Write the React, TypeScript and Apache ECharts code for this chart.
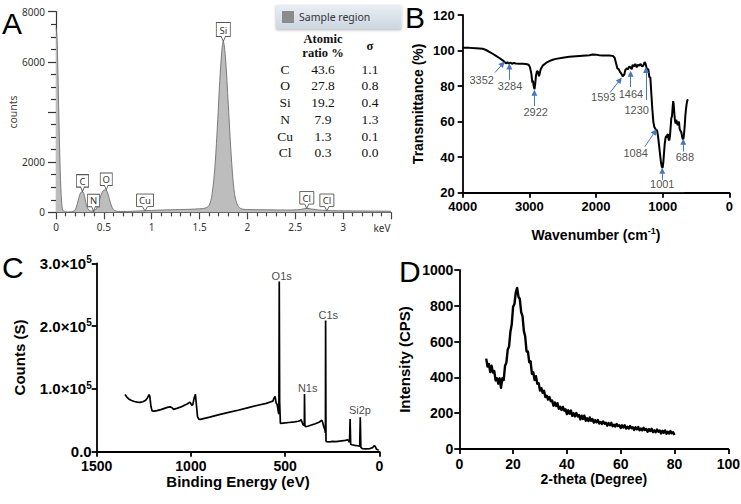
import React, { useEffect, useRef } from 'react';
import * as echarts from 'echarts';

const SANS = '"Liberation Sans", Arial, Helvetica, sans-serif';
const UI = '"Noto Sans", "Open Sans", sans-serif';
const SERIF = '"Liberation Serif", "Times New Roman", serif';

// ---------- Panel A: EDS spectrum ----------
const edsKeV = [0, 0.01, 0.02, 0.03, 0.04, 0.05, 0.06, 0.07, 0.09, 0.12, 0.16, 0.19, 0.21, 0.23, 0.25, 0.265, 0.277, 0.29, 0.305, 0.32, 0.34, 0.36, 0.38, 0.392, 0.41, 0.43, 0.45, 0.47, 0.49, 0.51, 0.525, 0.54, 0.56, 0.58, 0.6, 0.63, 0.67, 0.75, 0.85, 0.93, 1.0, 1.1, 1.2, 1.3, 1.4, 1.5, 1.56, 1.6, 1.63, 1.66, 1.69, 1.72, 1.748, 1.77, 1.8, 1.83, 1.86, 1.89, 1.93, 2.0, 2.2, 2.4, 2.52, 2.58, 2.62, 2.67, 2.74, 2.83, 2.95, 3.1, 3.3, 3.5];
const edsCounts = [7370, 7000, 5600, 3800, 2200, 1000, 350, 90, 20, 15, 20, 60, 180, 450, 720, 810, 825, 760, 520, 260, 100, 55, 50, 55, 90, 200, 420, 680, 850, 890, 880, 770, 500, 250, 110, 45, 30, 35, 50, 65, 75, 90, 100, 110, 120, 140, 170, 280, 700, 1800, 3700, 5800, 6810, 6200, 4300, 2300, 900, 350, 150, 110, 100, 90, 100, 130, 160, 130, 95, 70, 60, 55, 50, 45];
const edsPeakLabels = ['C', 'N', 'O', 'Cu', 'Si', 'Cl', 'Cl'];
const edsPeakKeV = [0.277, 0.392, 0.525, 0.93, 1.748, 2.62, 2.83];
const edsPeakCounts = [825, 40, 890, 50, 6810, 150, 50];
const edsAxisTicks = ['0', '0.5', '1', '1.5', '2', '2.5', '3'];
const tableElements = ['C', 'O', 'Si', 'N', 'Cu', 'Cl'];
const tableRatio = [43.6, 27.8, 19.2, 7.9, 1.3, 0.3];
const tableSigma = [1.1, 0.8, 0.4, 1.3, 0.1, 0.0];

// ---------- Panel B: FTIR ----------
const ftirWavenumber = [4000, 3900, 3800, 3700, 3650, 3600, 3550, 3500, 3450, 3400, 3370, 3352, 3330, 3310, 3284, 3260, 3240, 3200, 3150, 3100, 3050, 3010, 2990, 2970, 2955, 2945, 2935, 2922, 2910, 2900, 2885, 2870, 2855, 2845, 2830, 2800, 2750, 2700, 2650, 2600, 2500, 2400, 2300, 2200, 2100, 2050, 2000, 1950, 1900, 1800, 1750, 1720, 1700, 1680, 1660, 1640, 1620, 1600, 1593, 1575, 1560, 1540, 1520, 1500, 1480, 1464, 1450, 1430, 1410, 1390, 1370, 1350, 1330, 1310, 1290, 1270, 1255, 1240, 1230, 1215, 1200, 1185, 1170, 1155, 1140, 1125, 1110, 1100, 1084, 1070, 1055, 1040, 1025, 1012, 1001, 990, 980, 970, 960, 950, 940, 930, 920, 910, 900, 890, 880, 870, 860, 850, 842, 835, 825, 815, 805, 795, 785, 775, 765, 755, 745, 735, 720, 705, 695, 688, 680, 670, 660, 650, 640, 630, 618];
const ftirTransmittance = [101.5, 101.5, 101.3, 101.0, 100.3, 99.3, 98.2, 97.0, 95.8, 94.5, 93.5, 92.8, 93.4, 92.6, 93.3, 92.5, 93.0, 92.7, 92.6, 92.5, 92.4, 92.0, 90.5, 87, 82, 83, 80, 78.3, 82, 86, 88.5, 88, 85.5, 87, 89.5, 91.5, 93, 94, 94.8, 95.3, 96, 96.5, 96.8, 97.1, 97.4, 97.8, 97.7, 97.3, 97.2, 97.2, 97.0, 96, 93, 90, 89.5, 88, 87, 85.5, 85.3, 86.5, 89, 90, 89.5, 91, 90.5, 89.5, 92, 91, 92.5, 90.5, 92, 91.5, 92.5, 91, 91.5, 93.5, 92.5, 90, 89.5, 89.5, 85, 85, 76, 67, 60, 57, 56, 55.5, 55, 52, 47, 42, 37, 34.5, 34, 37, 42, 47, 50, 52, 51, 52.5, 53, 50, 49.5, 52, 57, 62, 63, 68, 71.5, 70, 65, 60.5, 59, 61, 61, 58, 59, 60, 56, 55, 54, 51, 50, 50.5, 53, 57, 63, 67, 70, 72, 72.5];
const ftirPeakLabels = ['3352', '3284', '2922', '1593', '1464', '1230', '1084', '1001', '688'];
const ftirLabelWn = [3715, 3290, 2905, 1891, 1476, 1390, 1405, 1006, 666];
const ftirLabelT = [83.5, 80.1, 65.6, 73.7, 75.6, 66.6, 42.2, 24.7, 39.9];
const ftirArrowFromWn = [3516, 3300, 2925, 1790, 1480, 1250, 1266, 1006, 691];
const ftirArrowFromT = [87.6, 83.5, 68.8, 76.3, 79.4, 72.2, 45.9, 27.2, 43.1];
const ftirArrowToWn = [3400, 3300, 2925, 1640, 1480, 1250, 1116, 1006, 691];
const ftirArrowToT = [92.5, 91, 76.3, 83.5, 86.9, 89.1, 54.4, 32.4, 48.7];

// ---------- Panel C: XPS survey ----------
const xpsBindingEnergy = [1350, 1340, 1330, 1315, 1300, 1285, 1270, 1255, 1240, 1230, 1222, 1218, 1212, 1206, 1195, 1180, 1160, 1140, 1125, 1110, 1100, 1092, 1080, 1060, 1040, 1020, 1005, 995, 990, 982, 976, 971, 965, 958, 950, 900, 850, 800, 750, 700, 650, 600, 575, 565, 558, 553, 548, 542, 535, 533, 531, 529, 525, 510, 480, 450, 430, 420, 415, 410, 404, 400, 398, 397, 395, 390, 380, 360, 340, 320, 305, 300, 295, 289, 286, 285, 283, 280, 265, 250, 230, 210, 190, 175, 168, 163, 158, 155, 152, 145, 130, 115, 104, 101, 98, 90, 70, 50, 35, 28, 22, 15, 8, 3];
const xpsCounts = [91000, 87000, 84000, 81500, 80000, 79000, 78500, 79500, 82000, 86000, 91000, 88000, 72000, 65000, 64500, 65500, 67000, 69000, 70500, 71500, 70000, 67500, 68500, 70500, 73000, 76000, 79000, 74000, 75000, 86000, 91500, 75000, 56000, 52000, 51500, 55000, 59000, 62500, 66000, 69800, 73500, 77000, 79500, 80500, 86000, 88000, 78000, 75000, 62000, 60000, 271000, 80000, 45000, 45500, 46500, 47500, 48500, 49500, 51000, 47000, 42500, 42000, 45000, 92000, 41000, 40000, 40500, 42500, 44500, 47000, 50000, 46000, 40000, 35000, 30000, 209000, 17000, 16000, 15500, 16500, 16000, 16800, 17500, 18500, 19000, 17500, 15000, 52000, 12000, 11000, 10000, 9500, 9000, 55000, 7000, 5000, 4500, 5000, 6500, 9500, 8500, 4000, 3000, 2500];
const xpsPeakLabels = ['O1s', 'C1s', 'N1s', 'Si2p'];
const xpsLabelBE = [518, 271, 380, 103];
const xpsLabelCounts = [280000, 218000, 101000, 66000];

// ---------- Panel D: XRD ----------
const xrdTwoTheta = [10, 10.5, 11, 11.5, 12, 12.5, 13, 13.5, 14, 14.5, 15, 15.5, 16, 16.5, 17, 17.5, 18, 18.5, 19, 19.5, 20, 20.5, 21, 21.5, 22, 22.5, 23, 23.5, 24, 24.5, 25, 25.5, 26, 26.5, 27, 27.5, 28, 28.5, 29, 29.5, 30, 30.5, 31, 31.5, 32, 32.5, 33, 33.5, 34, 34.5, 35, 35.5, 36, 36.5, 37, 37.5, 38, 38.5, 39, 39.5, 40, 40.5, 41, 41.5, 42, 42.5, 43, 43.5, 44, 44.5, 45, 45.5, 46, 46.5, 47, 47.5, 48, 48.5, 49, 49.5, 50, 50.5, 51, 51.5, 52, 52.5, 53, 53.5, 54, 54.5, 55, 55.5, 56, 56.5, 57, 57.5, 58, 58.5, 59, 59.5, 60, 60.5, 61, 61.5, 62, 62.5, 63, 63.5, 64, 64.5, 65, 65.5, 66, 66.5, 67, 67.5, 68, 68.5, 69, 69.5, 70, 70.5, 71, 71.5, 72, 72.5, 73, 73.5, 74, 74.5, 75, 75.5, 76, 76.5, 77, 77.5, 78, 78.5, 79, 79.5, 80];
const xrdIntensity = [505, 460, 475, 430, 465, 427, 435, 383, 395, 365, 395, 342, 395, 385, 465, 482, 555, 573, 655, 697, 795, 810, 875, 900, 850, 838, 765, 742, 660, 628, 545, 545, 485, 490, 420, 428, 385, 407, 365, 368, 327, 340, 314, 326, 290, 298, 276, 290, 267, 271, 242, 260, 240, 256, 224, 236, 218, 235, 215, 222, 195, 216, 197, 215, 185, 199, 182, 201, 182, 190, 165, 186, 168, 187, 158, 172, 156, 176, 158, 167, 147, 161, 149, 162, 142, 151, 140, 154, 141, 147, 130, 145, 133, 146, 127, 136, 126, 140, 128, 133, 117, 132, 120, 133, 114, 124, 114, 128, 116, 122, 106, 121, 110, 123, 104, 114, 104, 118, 106, 112, 96, 111, 100, 113, 94, 104, 94, 109, 97, 103, 87, 102, 91, 104, 85, 96, 86, 100, 88, 94, 78];

const CALLOUT = 'path://M0,0H20V14H13L10,19L7,14H0Z';
const calloutSizes = [[12, 17], [12, 17], [12, 17], [17, 17], [14, 19], [14, 17], [14, 17]];

const plain = (v: number) => String(v);
function boldAxisLabel(size: number) {
  return { color: '#000', fontSize: size, fontWeight: 'bold' as const, fontFamily: SANS, formatter: plain };
}
const blackLine = { show: true, onZero: false, lineStyle: { color: '#000', width: 1.8 } };
const blackTick = { show: true, length: 5, lineStyle: { color: '#000', width: 1.8 } };

function buildOption(): any {
  const tableChildren: any[] = [];
  const colEl = 285, colRatio = 323, colSigma = 370;
  const hdr = { fontFamily: SERIF, fontWeight: 'bold', fontSize: 12.5, fill: '#111', align: 'center', verticalAlign: 'middle' };
  tableChildren.push({ type: 'text', x: colRatio, y: 39, style: { ...hdr, text: 'Atomic' } });
  tableChildren.push({ type: 'text', x: colRatio, y: 53, style: { ...hdr, text: 'ratio %' } });
  tableChildren.push({ type: 'text', x: colSigma, y: 46, style: { ...hdr, text: 'σ' } });
  const cell = { fontFamily: SERIF, fontSize: 13.5, fill: '#111', align: 'center', verticalAlign: 'middle' };
  tableElements.forEach((el, i) => {
    const y = 69 + i * 16.75;
    tableChildren.push({ type: 'text', x: colEl, y, style: { ...cell, text: el } });
    tableChildren.push({ type: 'text', x: colRatio, y, style: { ...cell, text: tableRatio[i].toFixed(1) } });
    tableChildren.push({ type: 'text', x: colSigma, y, style: { ...cell, text: tableSigma[i].toFixed(1) } });
  });

  const letter = (t: string, x: number, y: number) => ({
    type: 'text', x, y, style: { text: t, fontSize: 30, fontFamily: SANS, fill: '#000', align: 'left', verticalAlign: 'top' },
  });

  return {
    animation: false,
    backgroundColor: '#fff',
    grid: [
      { left: 56, top: 11.7, width: 335, height: 200.6, outerBoundsMode: 'none' },
      { left: 462.7, top: 15, width: 266.6, height: 177.7, outerBoundsMode: 'none' },
      { left: 96.7, top: 263.3, width: 282.6, height: 188.4, outerBoundsMode: 'none' },
      { left: 459.3, top: 270, width: 269, height: 179, outerBoundsMode: 'none' },
    ],
    legend: {
      show: true,
      data: [{ name: 'Sample region', icon: 'rect', itemStyle: { color: '#8b8b8b', borderWidth: 0 } }],
      left: 276, top: 5,
      itemWidth: 12, itemHeight: 12, itemGap: 0,
      padding: [6, 31, 6, 6],
      selectedMode: false,
      backgroundColor: new echarts.graphic.LinearGradient(0, 0, 0, 1, [
        { offset: 0, color: '#e9eef4' }, { offset: 1, color: '#ccd6e0' },
      ]),
      shadowBlur: 3, shadowColor: 'rgba(0,0,0,0.3)', shadowOffsetY: 1,
      textStyle: { fontSize: 10.5, color: '#333', fontFamily: UI },
    },
    xAxis: [
      {
        gridIndex: 0, type: 'value', min: 0, max: 3.5, interval: 0.5,
        axisLine: { show: true, onZero: false, lineStyle: { color: '#555', width: 1.2 } },
        axisTick: { show: true, length: 7, lineStyle: { color: '#444', width: 1.2 } },
        minorTick: { show: true, splitNumber: 5, length: 4, lineStyle: { color: '#444', width: 1.2 } },
        splitLine: { show: false },
        axisLabel: {
          margin: 10, fontSize: 10, color: '#333', fontFamily: UI,
          formatter: (v: number) => {
            const idx = Math.round(v / 0.5);
            return idx < edsAxisTicks.length ? edsAxisTicks[idx] : '';
          },
        },
      },
      {
        gridIndex: 1, type: 'value', inverse: true, min: 0, max: 4000, interval: 1000,
        axisLine: blackLine, axisTick: blackTick, splitLine: { show: false },
        axisLabel: { ...boldAxisLabel(13), margin: 7 },
        name: '{a|Wavenumber (cm}{b|-1}{a|)}', nameLocation: 'middle', nameGap: 34,
        nameTextStyle: {
          rich: {
            a: { fontSize: 14, fontWeight: 'bold', fontFamily: SANS, color: '#000', lineHeight: 16 },
            b: { fontSize: 9, fontWeight: 'bold', fontFamily: SANS, color: '#000', verticalAlign: 'top', lineHeight: 10 },
          },
        },
      },
      {
        gridIndex: 2, type: 'value', inverse: true, min: 0, max: 1500, interval: 500,
        axisLine: blackLine, axisTick: blackTick, splitLine: { show: false },
        axisLabel: { ...boldAxisLabel(14), margin: 7 },
        name: 'Binding Energy (eV)', nameLocation: 'middle', nameGap: 19,
        nameTextStyle: { fontSize: 15, fontWeight: 'bold', fontFamily: SANS, color: '#000', verticalAlign: 'top' },
      },
      {
        gridIndex: 3, type: 'value', min: 0, max: 100, interval: 20,
        axisLine: blackLine, axisTick: blackTick, splitLine: { show: false },
        axisLabel: { ...boldAxisLabel(14), margin: 8 },
        name: '2-theta (Degree)', nameLocation: 'middle', nameGap: 21,
        nameTextStyle: { fontSize: 14, fontWeight: 'bold', fontFamily: SANS, color: '#000', verticalAlign: 'top' },
      },
    ],
    yAxis: [
      {
        gridIndex: 0, type: 'value', min: 0, max: 8000, interval: 2000,
        axisLine: { show: true, onZero: false, lineStyle: { color: '#333', width: 1.2 } },
        axisTick: { show: true, length: 8, lineStyle: { color: '#333', width: 1.2 } },
        minorTick: { show: true, splitNumber: 4, length: 5, lineStyle: { color: '#333', width: 1.2 } },
        splitLine: { show: false },
        axisLabel: { margin: 11, fontSize: 10, color: '#333', fontFamily: UI, formatter: (v: number) => (v === 4000 ? '' : String(v)) },
        name: 'counts', nameLocation: 'middle', nameGap: 28,
        nameTextStyle: { fontSize: 10.5, color: '#444', fontFamily: UI },
      },
      {
        gridIndex: 1, type: 'value', min: 20, max: 120, interval: 20,
        axisLine: blackLine, axisTick: blackTick, splitLine: { show: false },
        axisLabel: { ...boldAxisLabel(13), margin: 8 },
        name: 'Transmittance (%)', nameLocation: 'middle', nameGap: 38,
        nameTextStyle: { fontSize: 14, fontWeight: 'bold', fontFamily: SANS, color: '#000' },
      },
      {
        gridIndex: 2, type: 'value', min: 0, max: 300000, interval: 100000,
        axisLine: blackLine, axisTick: blackTick, splitLine: { show: false },
        axisLabel: {
          margin: 5, color: '#000', fontSize: 15, fontWeight: 'bold', fontFamily: SANS,
          formatter: (v: number) => (v === 0 ? '0.0' : `{m|${(v / 100000).toFixed(1)}×10}{s|5}`),
          rich: {
            m: { fontSize: 15, fontWeight: 'bold', fontFamily: SANS, color: '#000', lineHeight: 17 },
            s: { fontSize: 10, fontWeight: 'bold', fontFamily: SANS, color: '#000', verticalAlign: 'top', lineHeight: 10 },
          },
        },
        name: 'Counts (S)', nameLocation: 'middle', nameGap: 70,
        nameTextStyle: { fontSize: 15, fontWeight: 'bold', fontFamily: SANS, color: '#000' },
      },
      {
        gridIndex: 3, type: 'value', min: 0, max: 1000, interval: 200,
        axisLine: blackLine, axisTick: blackTick, splitLine: { show: false },
        axisLabel: { ...boldAxisLabel(14), margin: 6 },
        name: 'Intensity (CPS)', nameLocation: 'middle', nameGap: 47,
        nameTextStyle: { fontSize: 15, fontWeight: 'bold', fontFamily: SANS, color: '#000' },
      },
    ],
    series: [
      {
        type: 'line', name: 'Sample region', xAxisIndex: 0, yAxisIndex: 0,
        data: edsKeV.map((k, i) => [k, edsCounts[i]]),
        smooth: 0.35, symbol: 'none',
        lineStyle: { color: '#6f6f6f', width: 0.9 },
        areaStyle: { color: '#bdbdbd', opacity: 1 },
        itemStyle: { color: '#8b8b8b' },
        markPoint: {
          symbol: CALLOUT, symbolOffset: [0, '-50%'],
          itemStyle: { color: '#fff', borderColor: '#555', borderWidth: 0.9 },
          label: { show: true, position: 'inside', offset: [0, -2], color: '#333', fontSize: 9.5, fontFamily: UI },
          data: edsPeakLabels.map((t, i) => ({
            name: t + i, coord: [edsPeakKeV[i], edsPeakCounts[i]], symbolSize: calloutSizes[i],
            label: { formatter: t },
          })),
        },
      },
      {
        type: 'line', xAxisIndex: 1, yAxisIndex: 1,
        data: ftirWavenumber.map((w, i) => [w, ftirTransmittance[i]]),
        symbol: 'none', lineStyle: { color: '#000', width: 2 },
        markLine: {
          silent: true, symbol: ['none', 'triangle'], symbolSize: 6,
          lineStyle: { color: '#4a74c4', width: 1, type: 'solid' },
          itemStyle: { color: '#4a74c4' },
          label: { show: false },
          data: ftirPeakLabels.map((_, i) => [
            { coord: [ftirArrowFromWn[i], ftirArrowFromT[i]] },
            { coord: [ftirArrowToWn[i], ftirArrowToT[i]] },
          ]),
        },
      },
      {
        type: 'scatter', xAxisIndex: 1, yAxisIndex: 1, symbolSize: 0, silent: true,
        data: ftirPeakLabels.map((t, i) => ({
          value: [ftirLabelWn[i], ftirLabelT[i]],
          label: t === '1001' ? { backgroundColor: 'rgba(255,255,255,0.65)', padding: [1, 10, 4, 10] } : {},
        })),
        label: {
          show: true, position: 'inside', color: '#222', fontSize: 11, fontFamily: SANS,
          formatter: (p: any) => ftirPeakLabels[p.dataIndex],
        },
      },
      {
        type: 'line', xAxisIndex: 2, yAxisIndex: 2,
        data: xpsBindingEnergy.map((b, i) => [b, xpsCounts[i]]),
        symbol: 'none', lineStyle: { color: '#000', width: 1.7 },
      },
      {
        type: 'scatter', xAxisIndex: 2, yAxisIndex: 2, symbolSize: 0, silent: true,
        data: xpsPeakLabels.map((_, i) => [xpsLabelBE[i], xpsLabelCounts[i]]),
        label: {
          show: true, position: 'inside', color: '#111', fontSize: 11, fontFamily: SANS,
          formatter: (p: any) => xpsPeakLabels[p.dataIndex],
        },
      },
      {
        type: 'line', xAxisIndex: 3, yAxisIndex: 3,
        data: xrdTwoTheta.map((t, i) => [t, xrdIntensity[i]]),
        symbol: 'none', lineStyle: { color: '#000', width: 2.4, join: 'round' },
      },
    ],
    graphic: [
      letter('A', 2, 8),
      letter('B', 405, 2),
      letter('C', 2, 252),
      letter('D', 399, 256),
      { type: 'group', children: tableChildren },
      { type: 'text', x: 382, y: 228, style: { text: 'keV', fontSize: 10, fill: '#333', fontFamily: UI, align: 'center', verticalAlign: 'middle' } },
    ],
  };
}

export default function App() {
  const ref = useRef<HTMLDivElement>(null);
  useEffect(() => {
    document.body.style.margin = '0';
    const chart = echarts.init(ref.current as HTMLDivElement, null, { renderer: 'svg' });
    chart.setOption(buildOption());
    return () => chart.dispose();
  }, []);
  return <div ref={ref} style={{ width: 741, height: 504, background: '#fff' }} />;
}
